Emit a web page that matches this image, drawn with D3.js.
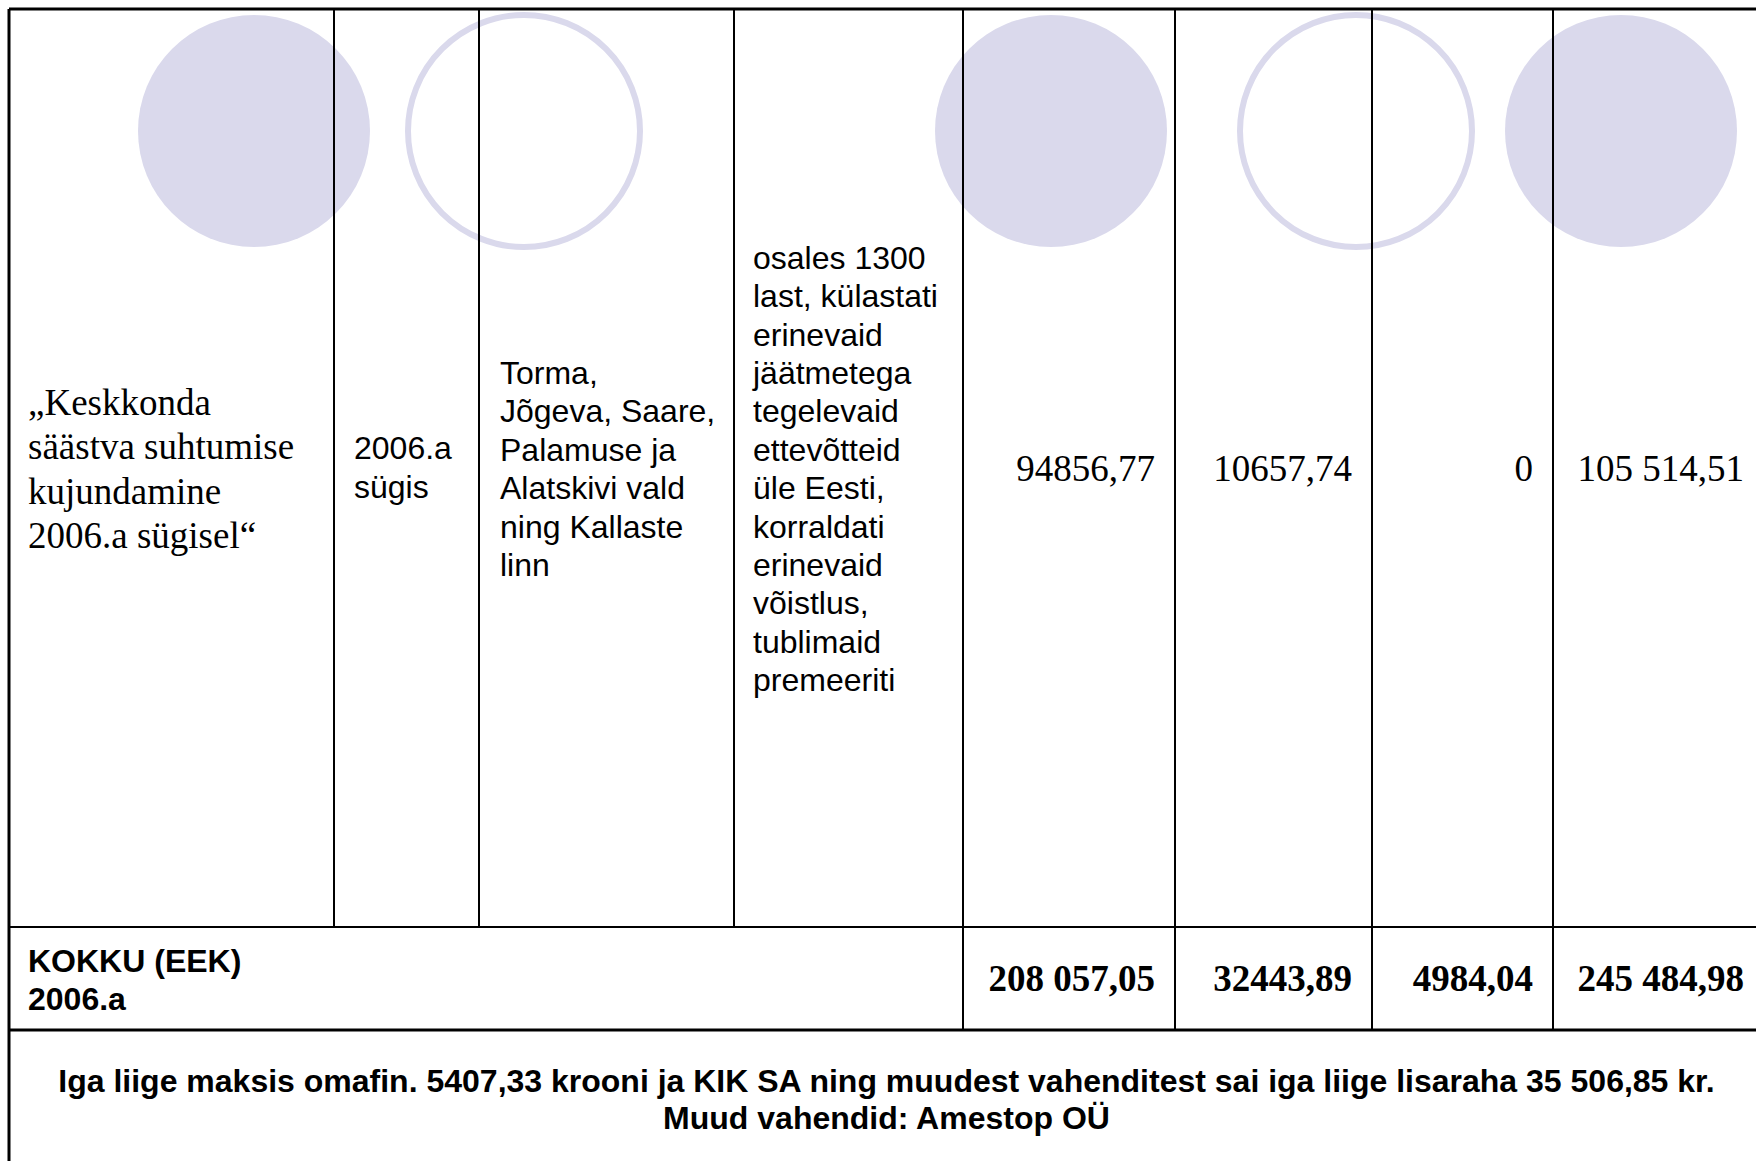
<!DOCTYPE html>
<html>
<head>
<meta charset="utf-8">
<script src="https://cdn.jsdelivr.net/npm/d3@7"></script>
<style>
  html, body { margin: 0; padding: 0; background: #fff; }
  svg { display: block; }
</style>
</head>
<body>
<script>
// ---------- data ----------
const projectName = ["„Keskkonda", "säästva suhtumise", "kujundamine", "2006.a sügisel“"];
const period = ["2006.a", "sügis"];
const locations = ["Torma,", "Jõgeva, Saare,", "Palamuse ja", "Alatskivi vald", "ning Kallaste", "linn"];
const activities = ["osales 1300", "last, külastati", "erinevaid", "jäätmetega", "tegelevaid",
  "ettevõtteid", "üle Eesti,", "korraldati", "erinevaid", "võistlus,", "tublimaid", "premeeriti"];
const rowValues = ["94856,77", "10657,74", "0", "105 514,51"];
const totalLabel = ["KOKKU (EEK)", "2006.a"];
const totalValues = ["208 057,05", "32443,89", "4984,04", "245 484,98"];
const footnote = [
  "Iga liige maksis omafin. 5407,33 krooni ja KIK SA ning muudest vahenditest sai iga liige lisaraha 35 506,85 kr.",
  "Muud vahendid: Amestop OÜ"
];
const decoCircles = ["filled", "outline", "filled", "outline", "filled"];

// ---------- layout ----------
const W = 1756, H = 1161;
const colWidths = [325, 145, 255, 229, 212, 197, 181, 211];
const colEdges = [9, ...d3.cumsum(colWidths).map(v => v + 9)];
const rowEdges = [9, 927, 1030, 1175];
const circleX = [254, 524, 1051, 1356, 1621];
const circleY = 131, circleR = 116;

const colX = i => colEdges[i];

const svg = d3.select("body").append("svg")
  .attr("width", W).attr("height", H)
  .attr("viewBox", `0 0 ${W} ${H}`);

svg.append("rect").attr("width", W).attr("height", H).attr("fill", "#fff");

// decorative circles
const circleFill = "#dad9ec";
svg.append("g").selectAll("circle")
  .data(decoCircles)
  .join("circle")
  .attr("cx", (d, i) => circleX[i])
  .attr("cy", circleY)
  .attr("r", circleR)
  .attr("fill", d => d === "filled" ? circleFill : "none")
  .attr("stroke", d => d === "filled" ? "none" : circleFill)
  .attr("stroke-width", d => d === "filled" ? 0 : 6);

const serif = "'Liberation Serif', 'Times New Roman', Times, serif";
const sans = "'Liberation Sans', Arial, Helvetica, sans-serif";

function multiline(g, lines, opts) {
  const n = lines.length;
  const first = opts.mid + opts.offset - (n - 1) / 2 * opts.pitch;
  g.append("text")
    .attr("font-family", opts.family)
    .attr("font-size", opts.size)
    .attr("font-weight", opts.weight || "normal")
    .attr("text-anchor", opts.anchor || "start")
    .attr("fill", "#000")
    .selectAll("tspan")
    .data(lines)
    .join("tspan")
    .attr("x", opts.x)
    .attr("y", (d, i) => first + i * opts.pitch)
    .text(d => d);
}

const textG = svg.append("g");
const mid1 = (rowEdges[0] + rowEdges[1]) / 2;
const mid2 = (rowEdges[1] + rowEdges[2]) / 2;

multiline(textG, projectName, {x: colX(0) + 19, mid: mid1, offset: 13.5, pitch: 44.5, family: serif, size: 37});
multiline(textG, period, {x: colX(1) + 20, mid: mid1, offset: 10.5, pitch: 38.4, family: sans, size: 32});
multiline(textG, locations, {x: colX(2) + 21, mid: mid1, offset: 12, pitch: 38.4, family: sans, size: 32});
multiline(textG, activities, {x: colX(3) + 19, mid: mid1, offset: 12, pitch: 38.4, family: sans, size: 32});

rowValues.forEach((v, i) => {
  multiline(textG, [v], {x: colX(4 + i + 1) - 20, mid: mid1, offset: 13, pitch: 0, family: serif, size: 37, anchor: "end"});
});

multiline(textG, totalLabel, {x: colX(0) + 19, mid: mid2, offset: 12, pitch: 38, family: sans, size: 32, weight: "bold"});
totalValues.forEach((v, i) => {
  multiline(textG, [v], {x: colX(4 + i + 1) - 20, mid: mid2, offset: 12.5, pitch: 0, family: serif, size: 37, anchor: "end", weight: "bold"});
});

multiline(textG, footnote, {x: (colEdges[0] + colEdges[colEdges.length - 1]) / 2, mid: 1093, offset: 17, pitch: 37, family: sans, size: 32, weight: "bold", anchor: "middle"});

// ---------- grid lines ----------
const gridG = svg.append("g").attr("stroke", "#000").attr("fill", "none");
const right = colEdges[colEdges.length - 1];
// horizontal
gridG.append("line").attr("x1", colEdges[0]).attr("x2", right).attr("y1", rowEdges[0]).attr("y2", rowEdges[0]).attr("stroke-width", 3);
gridG.append("line").attr("x1", colEdges[0]).attr("x2", right).attr("y1", rowEdges[1]).attr("y2", rowEdges[1]).attr("stroke-width", 2.2);
gridG.append("line").attr("x1", colEdges[0]).attr("x2", right).attr("y1", rowEdges[2]).attr("y2", rowEdges[2]).attr("stroke-width", 3.2);
// outer left / right
gridG.append("line").attr("x1", colEdges[0]).attr("x2", colEdges[0]).attr("y1", rowEdges[0]).attr("y2", H + 5).attr("stroke-width", 3);
gridG.append("line").attr("x1", right).attr("x2", right).attr("y1", rowEdges[0]).attr("y2", H + 5).attr("stroke-width", 3);
// inner verticals: cols 1-3 only in row 1, cols 4-7 through total row
gridG.selectAll("line.inner")
  .data(colEdges.slice(1, -1))
  .join("line")
  .attr("class", "inner")
  .attr("x1", d => d).attr("x2", d => d)
  .attr("y1", rowEdges[0])
  .attr("y2", (d, i) => i < 3 ? rowEdges[1] : rowEdges[2])
  .attr("stroke-width", 2);
</script>
</body>
</html>
